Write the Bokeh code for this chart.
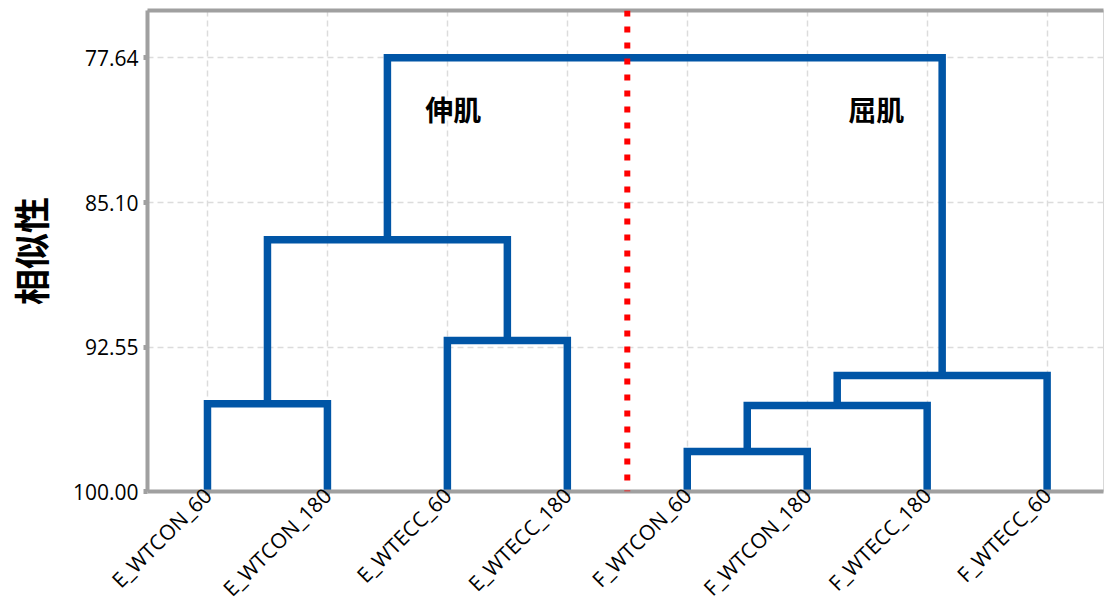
import numpy as np
from bokeh.plotting import figure
from bokeh.models import Range1d, FixedTicker, LinearAxis, Span, Label, NumeralTickFormatter
from bokeh.embed import file_html
from bokeh.resources import INLINE

# ---- data ----
leaves = ["E_WTCON_60", "E_WTCON_180", "E_WTECC_60", "E_WTECC_180",
          "F_WTCON_60", "F_WTCON_180", "F_WTECC_180", "F_WTECC_60"]
# merges (scipy-like): node ids 0..7 are leaves, new clusters get ids 8, 9, ...
merge_a = [0, 2, 4, 10, 11, 8, 13]
merge_b = [1, 3, 5, 6, 7, 9, 12]
merge_sim = [95.47, 92.22, 97.94, 95.57, 94.02, 87.02, 77.64]
y_ticks = [77.64, 85.10, 92.55, 100.00]
group_names = ["伸肌", "屈肌"]

# ---- compute dendrogram geometry ----
n = len(leaves)
node_x = {i: float(i) for i in range(n)}
node_h = {i: 100.0 for i in range(n)}
xs, ys = [], []
for k, (a, b, s) in enumerate(zip(merge_a, merge_b, merge_sim)):
    xa_, xb_ = node_x[a], node_x[b]
    xs.append([xa_, xa_, xb_, xb_])
    ys.append([node_h[a], s, s, node_h[b]])
    node_x[n + k] = (xa_ + xb_) / 2
    node_h[n + k] = s

FONT = "Open Sans"
CJK = "Noto Sans CJK SC"
GRAY = "#a0a0a0"
BLUE = "#0055A6"

p = figure(width=1105, height=615, output_backend="svg", toolbar_location=None,
           x_range=Range1d(-0.5, 7.47), y_range=Range1d(100, 75.2),
           min_border_left=147, min_border_right=2, min_border_top=10, min_border_bottom=124)
p.outline_line_color = "#d8d8d8"
p.outline_line_width = 1
p.background_fill_color = "white"

p.multi_line(xs, ys, line_color=BLUE, line_width=7.5, line_join="miter", line_cap="butt")

# divider between groups
div_x = (leaves.index("E_WTECC_180") + leaves.index("F_WTCON_60")) / 2
p.add_layout(Span(location=div_x, dimension="height", line_color="red",
                  line_width=6, line_dash="6 10"))

# group labels
p.add_layout(Label(x=2.05, y=80.3, text=group_names[0], text_font=CJK, text_font_style="bold",
                   text_font_size="28px", text_color="black",
                   text_align="center", text_baseline="middle"))
p.add_layout(Label(x=5.575, y=80.3, text=group_names[1], text_font=CJK, text_font_style="bold",
                   text_font_size="28px", text_color="black",
                   text_align="center", text_baseline="middle"))

# axes
xa = p.xaxis[0]
xa.ticker = FixedTicker(ticks=list(range(n)))
xa.major_label_overrides = {i: name for i, name in enumerate(leaves)}
xa.major_label_orientation = np.pi / 4
ya = p.yaxis[0]
ya.ticker = FixedTicker(ticks=y_ticks)
ya.formatter = NumeralTickFormatter(format="0.00")
ya.axis_label = "相似性"
ya.axis_label_text_font = CJK
ya.axis_label_text_font_style = "bold"
ya.axis_label_text_font_size = "36px"
ya.axis_label_text_color = "black"
ya.axis_label_standoff = 14
for ax in (xa, ya):
    ax.axis_line_color = GRAY
    ax.axis_line_width = 4
    ax.major_tick_line_color = GRAY
    ax.major_tick_line_width = 5
    ax.major_tick_in = 0
    ax.major_tick_out = 4
    ax.minor_tick_line_color = None
    ax.major_label_text_font = FONT
    ax.major_label_text_font_size = "21px"
    ax.major_label_text_color = "black"
    ax.major_label_standoff = 5
xa.major_label_standoff = -4

top = LinearAxis(ticker=FixedTicker(ticks=[]), major_label_text_font_size="0px",
                 axis_line_color=GRAY, axis_line_width=4, major_tick_line_color=None,
                 minor_tick_line_color=None)
p.add_layout(top, "above")

p.xgrid.ticker = FixedTicker(ticks=list(range(n)))
p.ygrid.ticker = FixedTicker(ticks=y_ticks)
for g in (p.xgrid[0], p.ygrid[0]):
    g.grid_line_color = "#dcdcdc"
    g.grid_line_dash = "6 4"
    g.grid_line_width = 1.5

open("out.html", "w").write(file_html(p, INLINE))
